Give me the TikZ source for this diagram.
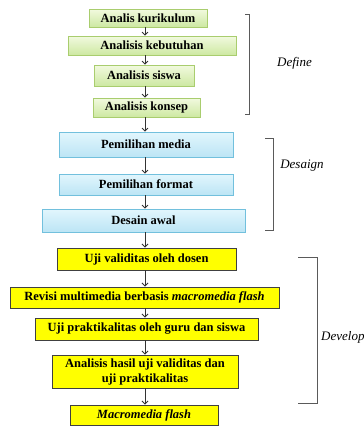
\documentclass[tikz,border=0pt]{standalone}
\usepackage{fontspec}
\setmainfont{Liberation Serif}
\usetikzlibrary{arrows.meta,shadows}

\definecolor{grnTop}{HTML}{F2FADF}
\definecolor{grnBot}{HTML}{CDE8A2}
\definecolor{grnLine}{HTML}{A9CD6E}
\definecolor{bluTop}{HTML}{E2F6FD}
\definecolor{bluBot}{HTML}{BCE5F5}
\definecolor{bluLine}{HTML}{72C0DD}
\definecolor{yelFill}{HTML}{FFFF00}
\definecolor{brkGray}{HTML}{5A5A5A}

\begin{document}
\begin{tikzpicture}[x=1pt, y=-1pt,
  box/.style={rectangle, inner sep=2pt, font=\fontsize{12.5}{14}\selectfont\bfseries,
    drop shadow={shadow xshift=1pt, shadow yshift=-1.2pt, opacity=0.35}},
  greenbox/.style={box, draw=grnLine, line width=0.8pt, top color=grnTop, bottom color=grnBot},
  bluebox/.style={box, draw=bluLine, line width=0.8pt, top color=bluTop, bottom color=bluBot},
  yellowbox/.style={box, draw=black!75, line width=0.9pt, fill=yelFill},
  arr/.style={-{Straight Barb[length=3pt,width=6pt]}, draw=black!80, line width=0.8pt},
  brk/.style={draw=brkGray, line width=0.8pt},
  lbl/.style={font=\fontsize{13}{15}\selectfont\itshape}]
\useasboundingbox (0,0) rectangle (364,426);
\clip (0,0) rectangle (364,426);

% Tahap define
\node[greenbox, minimum width=118pt, minimum height=18pt] (kur) at (148,18) {Analis kurikulum};
\node[greenbox, minimum width=168pt, minimum height=19pt] (keb) at (152,45.5) {Analisis kebutuhan};
\node[greenbox, minimum width=100pt, minimum height=21pt] (sis) at (144,75.5) {Analisis siswa};
\node[greenbox, minimum width=107pt, minimum height=19pt] (kon) at (146.5,107.5) {Analisis konsep};

% Tahap desain
\node[bluebox, minimum width=174pt, minimum height=25pt] (med) at (146,144.5) {Pemilihan media};
\node[bluebox, minimum width=174pt, minimum height=21pt] (fmt) at (146,184.5) {Pemilihan format};
\node[bluebox, minimum width=203pt, minimum height=23pt] (awal) at (143.5,220.5) {Desain awal};

% Tahap develop
\node[yellowbox, minimum width=179pt, minimum height=22pt] (val) at (146.5,259) {Uji validitas oleh dosen};
\node[yellowbox, minimum width=269pt, minimum height=21pt] (rev) at (144.5,297.5) {Revisi multimedia berbasis \textit{macromedia flash}};
\node[yellowbox, minimum width=223pt, minimum height=22pt] (prak) at (146.5,329) {Uji praktikalitas oleh guru dan siswa};
\node[yellowbox, minimum width=186pt, minimum height=33pt, align=center,
      font=\fontsize{12.5}{15}\selectfont\bfseries] (has) at (145,371.5) {Analisis hasil uji validitas dan\\uji praktikalitas};
\node[yellowbox, minimum width=148pt, minimum height=20pt] (flash) at (144,415) {\textit{Macromedia flash}};

% Panah antar tahap
\coordinate (spine) at (145,0);
\foreach \a/\b in {kur/keb, keb/sis, sis/kon, kon/med, med/fmt, fmt/awal,
                   awal/val, val/rev, rev/prak, prak/has, has/flash}
  \draw[arr] (\a.south -| spine) -- (\b.north -| spine);

% Kurung kurawal dan label
\draw[brk] (245,14) -- (249,14) -- (249,114) -- (245,114);
\node[lbl] (define) at (294.5,63) {Define};
\draw[brk] (265,138) -- (273,138) -- (273,230) -- (265,230);
\node[lbl] (desaign) at (302,166) {Desaign};
\draw[brk] (298,257) -- (317,257) -- (317,403) -- (298,403);
\node[lbl, anchor=west, inner sep=0pt] (develop) at (321,337) {Develop};
\end{tikzpicture}
\end{document}
